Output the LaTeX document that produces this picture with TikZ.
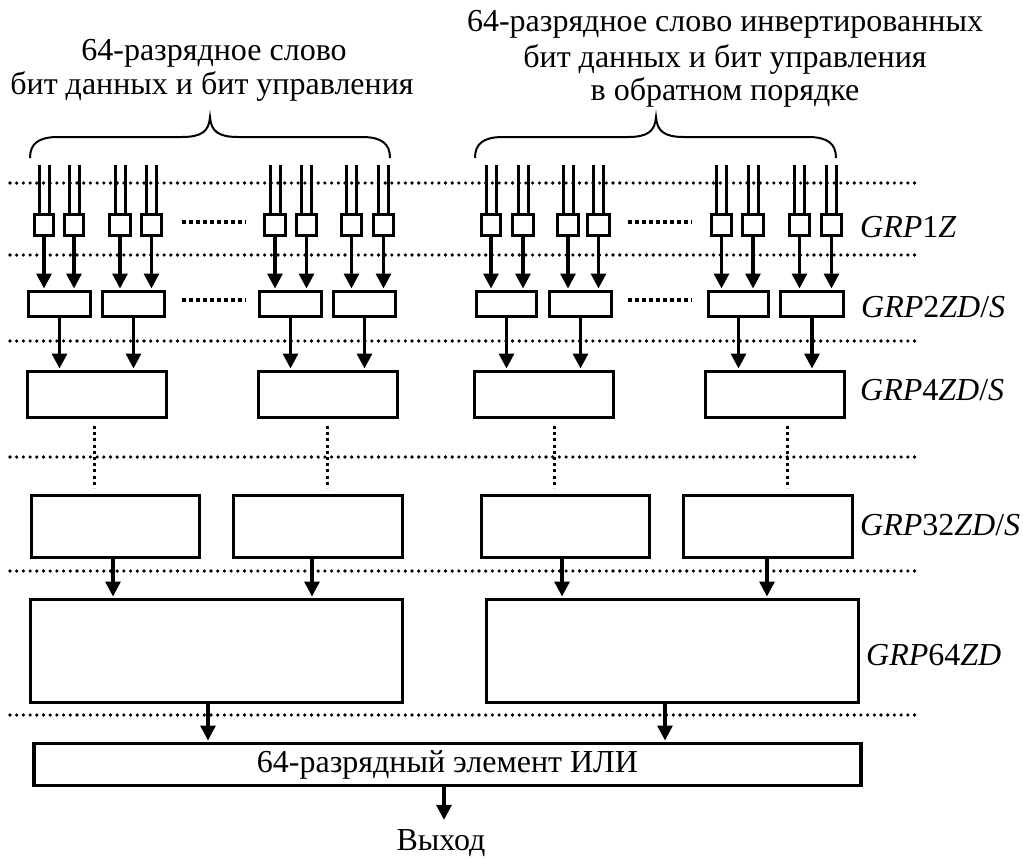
\documentclass[tikz,border=0pt]{standalone}
\usepackage{fontspec}
\setmainfont{Liberation Serif}
\usetikzlibrary{arrows.meta}
\newcommand\blkbox[5]{\node[blk,minimum width={#4-#2-3.4},minimum height={#5-#3-3.4}] (#1) at ({(#2+#4)/2},{(#3+#5)/2}) {};}
\begin{document}
\begin{tikzpicture}[x=1pt,y=-1pt,
  blk/.style={draw,line width=3.4pt,inner sep=0pt,fill=white},
  arr/.style={line width=3.3pt,shorten >=1.5pt,-{Triangle[length=15pt,width=15pt]}},
  inl/.style={line width=3pt},
  hdot/.style={line width=3.6pt,line cap=round,dash pattern=on 0pt off 6.7pt},
  vdot/.style={line width=3pt,dash pattern=on 3pt off 3.2pt},
  ell/.style={line width=3.4pt,dash pattern=on 3.6pt off 3.4pt},
  brc/.style={line width=2pt},
  txt/.style={font=\fontsize{32}{38}\selectfont,inner sep=0pt},
  lbl/.style={font=\fontsize{32}{38}\selectfont,inner sep=0pt,anchor=base west}]
\useasboundingbox (0,0) rectangle (1023,859);

% horizontal dotted level lines
\foreach \yy in {183,255,341,457,571,715} \draw[hdot] (10,\yy) -- (916,\yy);

% headers
\node[txt,anchor=base] (h1a) at (214,60) {64-разрядное слово};
\node[txt,anchor=base] (h1b) at (212,95) {бит данных и бит управления};
\node[txt,anchor=base] (h2a) at (725,32) {64-разрядное слово инвертированных};
\node[txt,anchor=base] (h2b) at (725,67) {бит данных и бит управления};
\node[txt,anchor=base] (h2c) at (725,100) {в обратном порядке};

% braces
\draw[brc] (30,158) .. controls (30,144) and (38,137) .. (58,137) -- (182,137)
  .. controls (202,137) and (209,131) .. (210,117)
  .. controls (211,131) and (218,137) .. (238,137) -- (362,137)
  .. controls (382,137) and (390,144) .. (390,158);
\draw[brc] (475,158) .. controls (475,144) and (483,137) .. (503,137) -- (628,137)
  .. controls (648,137) and (655,131) .. (656,117)
  .. controls (657,131) and (664,137) .. (684,137) -- (808,137)
  .. controls (828,137) and (836,144) .. (836,158);

% GRP1Z small boxes
\foreach \n/\a/\b in {sa/33/55,sb/63/85,sc/108/132,sd/140/163,se/263/287,sf/295/318,sg/340/363,sh/372/395,
                      ra/480/502,rb/511/535,rc/556/580,rd/586/611,re/710/733,rf/741/765,rg/788/811,rh/820/843}
  {\blkbox{\n}{\a}{213}{\b}{237}
   \draw[inl] ([xshift=-5pt]\n.north) -- ++(0,-48);
   \draw[inl] ([xshift=5pt]\n.north) -- ++(0,-48);}

% GRP2 boxes
\blkbox{ga}{27}{290}{92}{318}
\blkbox{gb}{101}{290}{166}{318}
\blkbox{gc}{258}{290}{323}{318}
\blkbox{gd}{332}{290}{397}{318}
\blkbox{ge}{475}{290}{538}{318}
\blkbox{gf}{548}{290}{613}{318}
\blkbox{gg}{707}{290}{770}{318}
\blkbox{gh}{779}{290}{845}{318}

\foreach \s/\g in {sa/ga,sb/ga,sc/gb,sd/gb,se/gc,sf/gc,sg/gd,sh/gd,
                   ra/ge,rb/ge,rc/gf,rd/gf,re/gg,rf/gg,rg/gh,rh/gh}
  \draw[arr] (\s.south) -- (\s.south |- \g.north);

% ellipsis marks
\draw[ell] (182,222) -- (246,222);
\draw[ell] (182,300) -- (246,300);
\draw[ell] (628,222) -- (692,222);
\draw[ell] (628,300) -- (692,300);

% GRP4 boxes
\blkbox{fa}{26}{370}{168}{419}
\blkbox{fb}{257}{370}{399}{419}
\blkbox{fc}{473}{370}{615}{419}
\blkbox{fd}{704}{370}{846}{419}

\foreach \g/\f in {ga/fa,gb/fa,gc/fb,gd/fb,ge/fc,gf/fc,gg/fd,gh/fd}
  \draw[arr] (\g.south) -- (\g.south |- \f.north);

% GRP32 boxes
\blkbox{ha}{30}{494}{201}{559}
\blkbox{hb}{232}{494}{404}{559}
\blkbox{hc}{480}{494}{651}{559}
\blkbox{hd}{682}{494}{854}{559}

% vertical dotted omissions
\draw[vdot] ([xshift=-3pt,yshift=-7pt]fa.south) -- ++(0,62);
\draw[vdot] ([xshift=-1pt,yshift=-7pt]fb.south) -- ++(0,62);
\draw[vdot] ([xshift=10pt,yshift=-7pt]fc.south) -- ++(0,62);
\draw[vdot] ([xshift=12pt,yshift=-7pt]fd.south) -- ++(0,62);

% GRP64 boxes
\blkbox{ka}{29}{598}{404}{704}
\blkbox{kb}{485}{598}{860}{704}

\draw[arr] ([xshift=-2.5pt]ha.south) -- ([xshift=-2.5pt]ha.south |- ka.north);
\draw[arr] ([xshift=-6pt]hb.south) -- ([xshift=-6pt]hb.south |- ka.north);
\draw[arr] ([xshift=-3.5pt]hc.south) -- ([xshift=-3.5pt]hc.south |- kb.north);
\draw[arr] ([xshift=-1pt]hd.south) -- ([xshift=-1pt]hd.south |- kb.north);

% OR element
\node[blk,minimum width=827,minimum height=41.6,font=\fontsize{32}{38}\selectfont] (orb) at (447.5,764.5) {64-разрядный элемент ИЛИ};
\draw[arr] ([xshift=-8.5pt]ka.south) -- ([xshift=-8.5pt]ka.south |- orb.north);
\draw[arr] ([xshift=-7.5pt]kb.south) -- ([xshift=-7.5pt]kb.south |- orb.north);

% output
\node[txt,anchor=base] (out) at (441,850) {Выход};
\draw[arr,shorten >=9pt] ([xshift=-3.5pt]orb.south) -- ([xshift=-3.5pt]orb.south |- out.north);

% level labels
\node[lbl] (l1) at (860,237) {\textit{GRP}1\textit{Z}};
\node[lbl] (l2) at (861,317) {\textit{GRP}2\textit{ZD}/\textit{S}};
\node[lbl] (l4) at (860,400) {\textit{GRP}4\textit{ZD}/\textit{S}};
\node[lbl] (l32) at (860,535) {\textit{GRP}32\textit{ZD}/\textit{S}};
\node[lbl] (l64) at (866,665) {\textit{GRP}64\textit{ZD}};
\end{tikzpicture}
\end{document}
